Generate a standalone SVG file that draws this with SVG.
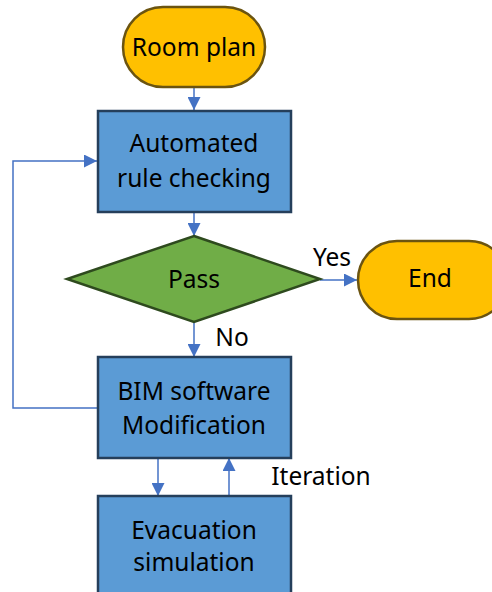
<svg xmlns="http://www.w3.org/2000/svg" width="492" height="592" viewBox="0 0 492 592">
<style>
.t{font-family:"Noto Sans","Open Sans",sans-serif;font-size:24.5px;fill:#000;text-anchor:middle;dominant-baseline:central}
.proc{fill:#5B9BD5;stroke:#253F5B;stroke-width:2.5}
.term{fill:#FFC000;stroke:#6B5410;stroke-width:2.5}
.dec{fill:#70AD47;stroke:#2E4A1E;stroke-width:2.5}
.c{fill:none;stroke:#4472C4;stroke-width:1.5}
</style>
<defs>
<marker id="a" viewBox="0 0 10 10" refX="10" refY="5" markerWidth="13" markerHeight="13" markerUnits="userSpaceOnUse" orient="auto"><path d="M0,0L10,5L0,10z" fill="#4472C4"/></marker>
</defs>
<rect width="492" height="592" fill="#fff"/>
<g id="connectors">
<path class="c" d="M194,87V110" marker-end="url(#a)"/>
<path class="c" d="M194,212V236" marker-end="url(#a)"/>
<path class="c" d="M320,280H357" marker-end="url(#a)"/>
<path class="c" d="M194,322V357" marker-end="url(#a)"/>
<path class="c" d="M98,408H13V161H97" marker-end="url(#a)"/>
<path class="c" d="M158,458V496" marker-end="url(#a)"/>
<path class="c" d="M229,496V458" marker-end="url(#a)"/>
<text class="t" x="332" y="256">Yes</text>
<text class="t" x="232" y="336">No</text>
<text class="t" x="321" y="475">Iteration</text>
</g>
<g id="room-plan">
<rect class="term" x="123" y="7" width="142" height="80" rx="40"/>
<text class="t" x="194" y="46">Room plan</text>
</g>
<g id="automated-rule-checking">
<rect class="proc" x="98" y="111" width="193" height="101"/>
<text class="t" x="194" y="142">Automated</text>
<text class="t" x="194" y="177">rule checking</text>
</g>
<g id="pass">
<path class="dec" d="M194,236L320,279L194,322L67,279z"/>
<text class="t" x="194" y="278">Pass</text>
</g>
<g id="end">
<rect class="term" x="358" y="241" width="150" height="78" rx="39"/>
<text class="t" x="430" y="277">End</text>
</g>
<g id="bim-software-modification">
<rect class="proc" x="98" y="357" width="193" height="101"/>
<text class="t" x="194" y="390">BIM software</text>
<text class="t" x="194" y="424">Modification</text>
</g>
<g id="evacuation-simulation">
<rect class="proc" x="98" y="496" width="193" height="110"/>
<text class="t" x="194" y="529">Evacuation</text>
<text class="t" x="194" y="561">simulation</text>
</g>
</svg>
